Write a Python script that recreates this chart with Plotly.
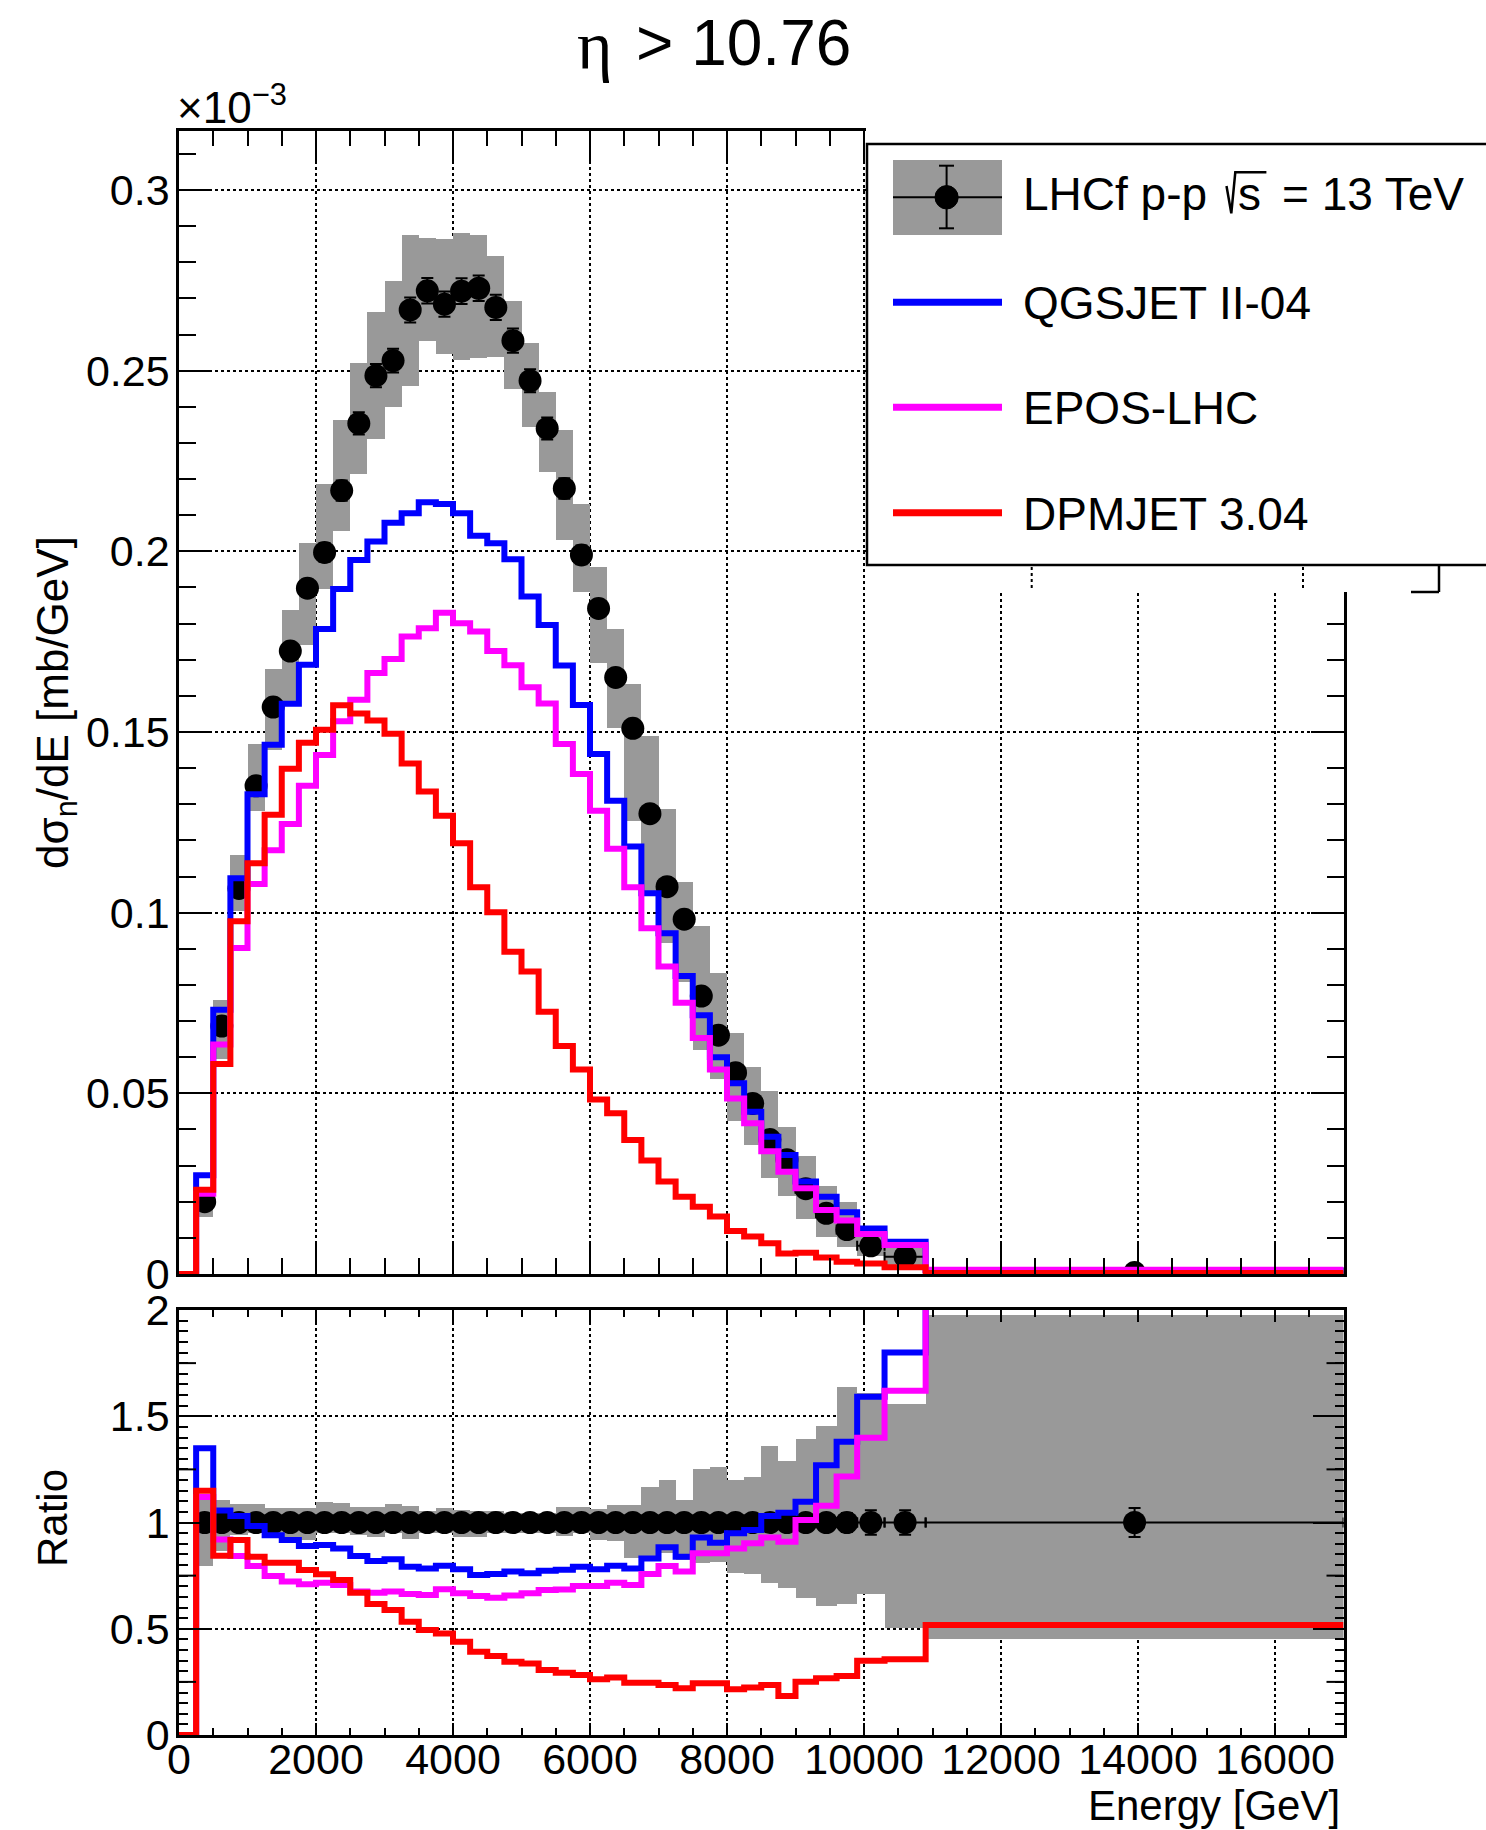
import plotly.graph_objects as go

W, H = 1486, 1830
FONT = "Liberation Sans, Arial, sans-serif"
GREY = "#999999"

# ---------------- data ----------------
# bin edges in GeV
edges = [0, 250, 500, 750, 1000, 1250, 1500, 1750, 2000, 2250, 2500, 2750, 3000,
         3250, 3500, 3750, 4000, 4250, 4500, 4750, 5000, 5250, 5500, 5750, 6000,
         6250, 6500, 6750, 7000, 7250, 7500, 7750, 8000, 8250, 8500, 8750, 9000,
         9300, 9600, 9900, 10300, 10900, 17000]

# LHCf data, d sigma/dE [x1e-3 mb/GeV], bins 2..42 (first bin empty)
data_val = [0.0200, 0.0686, 0.1067, 0.1351, 0.1569, 0.1724, 0.1898, 0.1997, 0.2168,
            0.2354, 0.2486, 0.2528, 0.2668, 0.2721, 0.2684, 0.2720, 0.2728, 0.2675,
            0.2583, 0.2472, 0.2340, 0.2174, 0.1990, 0.1842, 0.1651, 0.1510, 0.1274,
            0.1072, 0.0982, 0.0769, 0.0661, 0.0557, 0.0472, 0.0372, 0.0316, 0.0236,
            0.0168, 0.0123, 0.0078, 0.0048, 0.0004]
# relative statistical error
stat_rel = [0.013, 0.013, 0.013, 0.013, 0.013, 0.013, 0.013, 0.013, 0.013, 0.013,
            0.013, 0.013, 0.013, 0.013, 0.013, 0.013, 0.013, 0.013, 0.013, 0.013,
            0.013, 0.013, 0.013, 0.013, 0.013, 0.013, 0.013, 0.013, 0.014, 0.015,
            0.016, 0.018, 0.020, 0.022, 0.025, 0.030, 0.035, 0.045, 0.058, 0.058,
            0.068]
# systematic band (ratio to data)
band_hi = [1.122, 1.106, 1.087, 1.087, 1.067, 1.067, 1.067, 1.095, 1.090, 1.071,
           1.071, 1.087, 1.078, 1.054, 1.067, 1.059, 1.054, 1.054, 1.043, 1.043,
           1.043, 1.075, 1.071, 1.062, 1.082, 1.082, 1.169, 1.200, 1.106, 1.252,
           1.260, 1.200, 1.216, 1.362, 1.289, 1.391, 1.454, 1.636, 1.608, 1.558,
           1.976]
band_lo = [0.795, 0.867, 0.941, 0.949, 0.925, 0.921, 0.918, 0.949, 0.949, 0.941,
           0.930, 0.949, 0.921, 0.949, 0.949, 0.930, 0.930, 0.949, 0.949, 0.949,
           0.949, 0.935, 0.949, 0.918, 0.915, 0.831, 0.831, 0.855, 0.824, 0.808,
           0.816, 0.761, 0.758, 0.714, 0.690, 0.643, 0.607, 0.616, 0.664, 0.502,
           0.454]

# model predictions (all 42 bins)
qgsjet = [0, 0.0273, 0.0731, 0.1095, 0.1328, 0.1465, 0.1578, 0.1686, 0.1785, 0.1896,
          0.1976, 0.2027, 0.2079, 0.2105, 0.2136, 0.2131, 0.2105, 0.2043, 0.2022,
          0.1978, 0.1875, 0.1796, 0.1684, 0.1575, 0.1439, 0.1310, 0.1183, 0.1054,
          0.0943, 0.0825, 0.0716, 0.0600, 0.0528, 0.0449, 0.0380, 0.0329, 0.0256,
          0.0214, 0.0171, 0.0126, 0.0089, 0.0011]
epos = [0, 0.0222, 0.0635, 0.0902, 0.1079, 0.1173, 0.1245, 0.1351, 0.1436, 0.1530,
        0.1589, 0.1663, 0.1702, 0.1764, 0.1787, 0.1830, 0.1801, 0.1778, 0.1724,
        0.1685, 0.1624, 0.1579, 0.1467, 0.1384, 0.1282, 0.1177, 0.1070, 0.0957,
        0.0851, 0.0751, 0.0653, 0.0566, 0.0486, 0.0417, 0.0340, 0.0283, 0.0237,
        0.0177, 0.0148, 0.0111, 0.0080, 0.0012]
dpmjet = [0, 0.0233, 0.0581, 0.0976, 0.1137, 0.1271, 0.1398, 0.1470, 0.1506, 0.1574,
          0.1551, 0.1532, 0.1495, 0.1413, 0.1335, 0.1268, 0.1192, 0.1070, 0.1001,
          0.0892, 0.0837, 0.0726, 0.0631, 0.0566, 0.0483, 0.0445, 0.0371, 0.0314,
          0.0256, 0.0214, 0.0186, 0.0159, 0.0119, 0.0104, 0.0085, 0.0057, 0.0059,
          0.0046, 0.0034, 0.0029, 0.0019, 0.0003]

# ratios model / data
qgsjet_r = [0, 1.350, 1.056, 1.031, 0.984, 0.940, 0.918, 0.889, 0.894, 0.878, 0.842,
            0.819, 0.827, 0.792, 0.784, 0.797, 0.780, 0.753, 0.758, 0.769, 0.761,
            0.773, 0.778, 0.792, 0.780, 0.797, 0.784, 0.831, 0.883, 0.839, 0.930,
            0.905, 0.949, 0.965, 1.031, 1.046, 1.098, 1.270, 1.380, 1.592, 1.800,
            2.500]
epos_r = [0, 1.120, 0.920, 0.842, 0.795, 0.748, 0.722, 0.709, 0.717, 0.706, 0.675,
          0.670, 0.675, 0.664, 0.659, 0.686, 0.667, 0.654, 0.646, 0.656, 0.667,
          0.682, 0.685, 0.701, 0.701, 0.717, 0.706, 0.758, 0.795, 0.769, 0.855,
          0.855, 0.878, 0.902, 0.930, 0.910, 1.012, 1.079, 1.216, 1.399, 1.620,
          2.700]
dpmjet_r = [0, 1.150, 0.844, 0.918, 0.839, 0.811, 0.811, 0.776, 0.756, 0.729, 0.670,
            0.616, 0.588, 0.533, 0.494, 0.478, 0.439, 0.392, 0.372, 0.345, 0.337,
            0.306, 0.293, 0.282, 0.262, 0.271, 0.246, 0.246, 0.235, 0.220, 0.243,
            0.243, 0.215, 0.224, 0.235, 0.184, 0.251, 0.267, 0.278, 0.350, 0.356,
            0.518]

model_names = ["QGSJET II-04", "EPOS-LHC", "DPMJET 3.04"]
model_colors = ["#0000FF", "#FF00FF", "#FF0000"]

x_ticks = [0, 2000, 4000, 6000, 8000, 10000, 12000, 14000, 16000]
y_ticks_top = [0, 0.05, 0.1, 0.15, 0.2, 0.25, 0.3]
y_ticks_top_txt = ["0", "0.05", "0.1", "0.15", "0.2", "0.25", "0.3"]
y_ticks_bot = [0, 0.5, 1, 1.5, 2]
y_ticks_bot_txt = ["0", "0.5", "1", "1.5", "2"]

# ---------------- derived ----------------
lo_e = edges[1:-1]
hi_e = edges[2:]
centers = [(a + b) / 2 for a, b in zip(lo_e, hi_e)]
widths = [b - a for a, b in zip(lo_e, hi_e)]
halfw = [w / 2 for w in widths]


def px(x):
    return x / W


def py(y):
    return 1 - y / H


LW = 6
MS = 23

fig = go.Figure()

# ---- upper panel ----
fig.add_trace(go.Bar(
    x=centers, base=[d * l for d, l in zip(data_val, band_lo)],
    y=[d * (h - l) for d, h, l in zip(data_val, band_hi, band_lo)],
    width=widths, marker=dict(color=GREY, line=dict(width=0)),
    xaxis="x", yaxis="y", showlegend=False, hoverinfo="skip"))
fig.add_trace(go.Scatter(
    x=centers, y=data_val, mode="markers",
    marker=dict(size=MS, color="black"),
    error_y=dict(type="data", array=[d * s for d, s in zip(data_val, stat_rel)],
                 color="black", thickness=2, width=6),
    error_x=dict(type="data", array=halfw, color="black", thickness=2, width=5),
    xaxis="x", yaxis="y", showlegend=False))
for vals, col in zip([qgsjet, epos, dpmjet], model_colors):
    fig.add_trace(go.Scatter(
        x=edges, y=vals + [vals[-1]], mode="lines",
        line=dict(color=col, width=LW, shape="hv"),
        xaxis="x", yaxis="y", showlegend=False))

# ---- lower panel ----
fig.add_trace(go.Bar(
    x=centers, base=band_lo, y=[h - l for h, l in zip(band_hi, band_lo)],
    width=widths, marker=dict(color=GREY, line=dict(width=0)),
    xaxis="x2", yaxis="y2", showlegend=False, hoverinfo="skip"))
fig.add_trace(go.Scatter(
    x=centers, y=[1] * len(centers), mode="markers",
    marker=dict(size=MS, color="black"),
    error_y=dict(type="data", array=stat_rel, color="black", thickness=2, width=6),
    error_x=dict(type="data", array=halfw, color="black", thickness=2, width=5),
    xaxis="x2", yaxis="y2", showlegend=False))
for vals, col in zip([qgsjet_r, epos_r, dpmjet_r], model_colors):
    fig.add_trace(go.Scatter(
        x=edges, y=vals + [vals[-1]], mode="lines",
        line=dict(color=col, width=LW, shape="hv"),
        xaxis="x2", yaxis="y2", showlegend=False))

XD = [179 / W, 1343.5 / W]
YD_TOP = [py(1274), py(130.7)]
YD_BOT = [py(1735), py(1310)]

common = dict(showline=True, linecolor="black", linewidth=2.5, mirror="allticks",
              ticks="inside", tickcolor="black", tickwidth=2, showgrid=True,
              gridcolor="black", griddash="dot", gridwidth=1.5, zeroline=False,
              automargin=False,
              tickfont=dict(family=FONT, size=43, color="black"))

fig.update_layout(
    width=W, height=H,
    margin=dict(l=0, r=0, t=0, b=0, pad=0, autoexpand=False),
    paper_bgcolor="white", plot_bgcolor="white", barmode="overlay", bargap=0,
    showlegend=False,
    xaxis=dict(common, domain=XD, anchor="y", range=[0, 17000],
               tickmode="array", tickvals=x_ticks, showticklabels=False, ticklen=31,
               minor=dict(ticks="inside", ticklen=16, tickwidth=2, tickcolor="black",
                          tickmode="linear", tick0=0, dtick=500, showgrid=False)),
    yaxis=dict(common, domain=YD_TOP, anchor="x", range=[0, 0.3164],
               tickmode="array", tickvals=y_ticks_top, ticktext=y_ticks_top_txt,
               ticklen=33, ticklabelstandoff=-2,
               minor=dict(ticks="inside", ticklen=17, tickwidth=2, tickcolor="black",
                          tickmode="linear", tick0=0, dtick=0.01, showgrid=False)),
    xaxis2=dict(common, domain=XD, anchor="y2", range=[0, 17000],
                tickmode="array", tickvals=x_ticks,
                ticktext=[str(v) for v in x_ticks], ticklen=12, ticklabelstandoff=-15,
                minor=dict(ticks="inside", ticklen=7, tickwidth=2, tickcolor="black",
                           tickmode="linear", tick0=0, dtick=500, showgrid=False)),
    yaxis2=dict(common, domain=YD_BOT, anchor="x2", range=[0, 2],
                tickmode="array", tickvals=y_ticks_bot, ticktext=y_ticks_bot_txt,
                ticklen=31, ticklabelstandoff=-2,
                minor=dict(ticks="inside", ticklen=9, tickwidth=2, tickcolor="black",
                           tickmode="linear", tick0=0, dtick=0.05, showgrid=False)),
)

shapes = []
# secondary ticks on ratio y axis
for yv in [0.25, 0.75, 1.25, 1.75]:
    shapes.append(dict(type="line", xref="paper", yref="y2", x0=px(179), x1=px(196),
                       y0=yv, y1=yv, line=dict(color="black", width=2), layer="above"))
    shapes.append(dict(type="line", xref="paper", yref="y2", x0=px(1326.5), x1=px(1343.5),
                       y0=yv, y1=yv, line=dict(color="black", width=2), layer="above"))
# white area behind legend
shapes.append(dict(type="rect", xref="paper", yref="paper", x0=px(866), x1=px(1440),
                   y0=py(592), y1=py(100), fillcolor="white", line=dict(width=0),
                   layer="above"))
# leftover bits below the legend
for xx in [1031.7, 1303]:
    shapes.append(dict(type="line", xref="paper", yref="paper", x0=px(xx), x1=px(xx),
                       y0=py(588), y1=py(567),
                       line=dict(color="black", width=2, dash="dot"), layer="above"))
shapes.append(dict(type="line", xref="paper", yref="paper", x0=px(1439), x1=px(1439),
                   y0=py(592), y1=py(566), line=dict(color="black", width=2.5), layer="above"))
shapes.append(dict(type="line", xref="paper", yref="paper", x0=px(1411), x1=px(1439),
                   y0=py(592), y1=py(592), line=dict(color="black", width=2.5), layer="above"))
# legend box
shapes.append(dict(type="rect", xref="paper", yref="paper", x0=px(867), x1=px(1500),
                   y0=py(565), y1=py(144), fillcolor="white",
                   line=dict(color="black", width=2.5), layer="above"))
# data legend symbol
shapes.append(dict(type="rect", xref="paper", yref="paper", x0=px(893), x1=px(1002),
                   y0=py(235), y1=py(160), fillcolor=GREY, line=dict(width=0), layer="above"))
shapes.append(dict(type="line", xref="paper", yref="paper", x0=px(893), x1=px(1002),
                   y0=py(197.3), y1=py(197.3), line=dict(color="black", width=2), layer="above"))
shapes.append(dict(type="line", xref="paper", yref="paper", x0=px(946.6), x1=px(946.6),
                   y0=py(228.3), y1=py(165.7), line=dict(color="black", width=2), layer="above"))
for yy in [165.7, 228.3]:
    shapes.append(dict(type="line", xref="paper", yref="paper", x0=px(939), x1=px(954),
                       y0=py(yy), y1=py(yy), line=dict(color="black", width=2), layer="above"))
shapes.append(dict(type="circle", xref="paper", yref="paper", x0=px(935), x1=px(958.2),
                   y0=py(209), y1=py(185.6), fillcolor="black",
                   line=dict(color="black", width=1), layer="above"))
# model legend lines
for yy, col in zip([302.3, 407.3, 512.7], model_colors):
    shapes.append(dict(type="line", xref="paper", yref="paper", x0=px(893), x1=px(1002),
                       y0=py(yy), y1=py(yy), line=dict(color=col, width=7), layer="above"))
# radical sign
pts = [(1226.5, 186), (1231.3, 213.3), (1235.3, 172.3), (1266.4, 172.3)]
path = "M " + " L ".join(f"{px(a):.5f},{py(b):.5f}" for a, b in pts)
shapes.append(dict(type="path", xref="paper", yref="paper", path=path,
                   line=dict(color="black", width=2.5), layer="above"))

fig.update_layout(shapes=shapes)

ann = []


def text(s, x, y, size, xanchor="left", yanchor="middle", angle=0, family=FONT):
    ann.append(dict(text=s, x=px(x), y=py(y), xref="paper", yref="paper",
                    showarrow=False, xanchor=xanchor, yanchor=yanchor, textangle=angle,
                    font=dict(family=family, size=size, color="black")))


# title
text("η", 615, 46, 68, xanchor="right", family="Liberation Serif, serif")
text("> 10.76", 634, 43, 64)
# exponent
text("×10<sup>−3</sup>", 175, 104, 44)
# axis titles
text("dσ<sub>n</sub>/dE [mb/GeV]", 56, 703, 44, xanchor="center", angle=-90)
text("Ratio", 52, 1518, 42, xanchor="center", angle=-90)
text("Energy [GeV]", 1342, 1805, 42, xanchor="right")
# legend texts
text("LHCf p-p", 1021, 193.5, 46)
text("s", 1236, 193.5, 46)
text("= 13 TeV", 1280, 193.5, 46)
for name, yy in zip(model_names, [303.5, 408, 513.5]):
    text(name, 1021, yy, 46)

fig.update_layout(annotations=ann)

fig.write_html("out.html")
